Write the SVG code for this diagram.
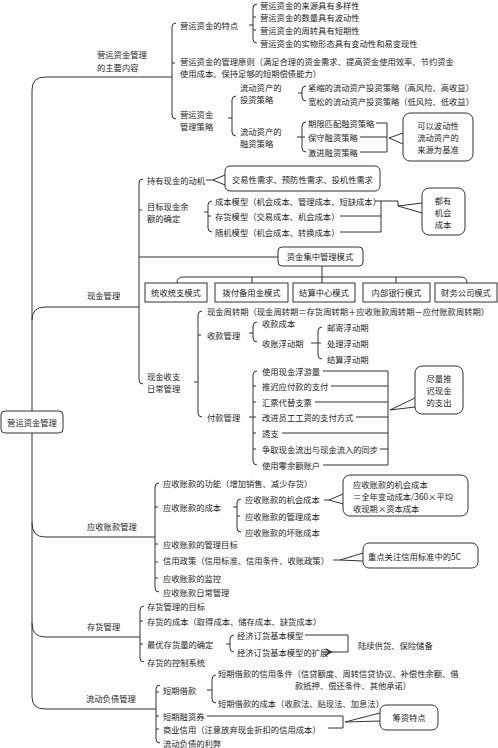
<svg xmlns="http://www.w3.org/2000/svg" width="498" height="748" viewBox="0 0 498 748">
<style>
.t{font-family:"Noto Sans CJK SC","Noto Sans",sans-serif;font-size:8.3px;fill:#1e1e1e;dominant-baseline:central}
.c{text-anchor:middle}
.ln{fill:none;stroke:#333;stroke-width:1}
.bx{fill:#fff;stroke:#333;stroke-width:1}
</style>
<defs>
<marker id="arr" viewBox="0 0 8 8" refX="1" refY="4" markerWidth="8" markerHeight="8" orient="auto-start-reverse" markerUnits="userSpaceOnUse">
<path d="M8,0 L0,4 L8,8 L5,4 Z" fill="#333"/>
</marker>
</defs>
<rect width="498" height="748" fill="#fff"/>

<g id="connectors" class="ln">
<path d="M172,77 H45 Q32,77 32,90 V697 Q32,709 45,709 H156"/>
<path d="M32,320 Q32,307 45,307 H139"/>
<path d="M32,523 Q32,537 45,537 H155"/>
<path d="M32,623 Q32,637 45,637 H140"/>
<path d="M176,23 Q172,23 172,27 V115 Q172,119 176,119 M172,63 H175"/>
<path d="M257,4 Q253,4 253,8 V39 Q253,43 257,43 M249,25 H253 M253,17 H256 M253,30 H256"/>
<path d="M236,96 Q232,96 232,100 V132 Q232,136 236,136 M228,118 H232"/>
<path d="M306,86 Q302,86 302,90 V97 Q302,101 306,101 M298,93 H302"/>
<path d="M306,122 Q302,122 302,126 V148 Q302,152 306,152 M297,137 H305"/>
<path d="M143,179 Q139,179 139,183 V380 Q139,384 143,384 M139,210 H142"/>
<path d="M212,201 Q208,201 208,205 V228 Q208,232 212,232 M204,212 H208 M208,216 H211"/>
<path d="M202,311 Q198,311 198,315 V413 Q198,417 202,417 M194,382 H198 M198,335 H201"/>
<path d="M257,322 Q253,322 253,326 V338 Q253,342 257,342 M249,333 H253"/>
<path d="M322,327 Q318,327 318,331 V355 Q318,359 322,359 M311,343 H321"/>
<path d="M257,371 Q253,371 253,375 V461 Q253,465 257,465 M249,417 H256 M253,386 H256 M253,402 H256 M253,433 H256 M253,449 H256"/>
<path d="M159,483 Q155,483 155,487 V588 Q155,592 159,592 M155,507 H158 M155,544 H158 M155,562 H158 M155,578 H158"/>
<path d="M241,499 Q237,499 237,503 V528 Q237,532 241,532 M233,507 H237 M237,516 H240"/>
<path d="M144,606 Q140,606 140,610 V658 Q140,662 144,662 M140,621 H143 M140,644 H143"/>
<path d="M234,635 Q230,635 230,639 V648 Q230,652 234,652 M226,644 H230"/>
<path d="M160,685 Q156,685 156,689 V739 Q156,743 160,743 M156,692 H159 M156,716 H159 M156,729 H159"/>
<path d="M216,675 Q212,675 212,679 V699 Q212,703 216,703 M207,690 H212"/>
<path d="M376,123 H387 V152 H360 M360,137 H387 M389,138 L403,133 M389,138 L403,144"/>
<path d="M206,180 H213 L225,175 M213,180 L225,185"/>
<path d="M375,201 H398 V206 M340,216 H381 M340,232 H381 V201 M398,206 L422,203 M398,206 L422,213"/>
<path d="M139,257 H278 M322,266 V283 M177,283 Q177,277 183,277 H461 Q467,277 467,283 M252,277 V283 M396,277 V283"/>
<path d="M323,371 H388 V465 H323 M331,386 H388 M315,402 H388 M356,417 H388 M282,433 H388 M380,449 H388 M390,410 L415,398 M390,410 L415,407"/>
<path d="M324,500 H329 L343,494 M329,500 L343,504"/>
<path d="M333,560 H340 L363,553 M340,560 L363,561"/>
<path d="M305,635 H348 V652 H332" marker-end="url(#arr)"/>
<path d="M207,716 H343 V728 H328 M345,722 L380,713 M345,722 L380,721"/>
</g>

<g id="n-root">
<rect class="bx" x="1" y="411" width="62" height="22" rx="4"/>
<text class="t c" x="32" y="422">营运资金管理</text>
</g>

<g id="n-main-content">
<text class="t" x="97" y="54">营运资金管理</text>
<text class="t" x="97" y="67">的主要内容</text>
</g>
<g id="n-features">
<text class="t" x="180" y="25">营运资金的特点</text>
</g>
<g id="n-features-items">
<text class="t" x="260" y="5">营运资金的来源具有多样性</text>
<text class="t" x="260" y="17">营运资金的数量具有波动性</text>
<text class="t" x="260" y="30">营运资金的周转具有短期性</text>
<text class="t" x="260" y="43">营运资金的实物形态具有变动性和易变现性</text>
</g>
<g id="n-principle">
<text class="t" x="180" y="61">营运资金的管理原则（满足合理的资金需求、提高资金使用效率、节约资金</text>
<text class="t" x="180" y="73">使用成本、保持足够的短期偿债能力）</text>
</g>
<g id="n-strategy">
<text class="t" x="180" y="114">营运资金</text>
<text class="t" x="180" y="126">管理策略</text>
</g>
<g id="n-invest">
<text class="t" x="240" y="87">流动资产的</text>
<text class="t" x="240" y="99">投资策略</text>
<text class="t" x="308" y="87">紧缩的流动资产投资策略（高风险、高收益）</text>
<text class="t" x="308" y="101">宽松的流动资产投资策略（低风险、低收益）</text>
</g>
<g id="n-finance">
<text class="t" x="240" y="131">流动资产的</text>
<text class="t" x="240" y="143">融资策略</text>
<text class="t" x="308" y="123">期限匹配融资策略</text>
<text class="t" x="308" y="137">保守融资策略</text>
<text class="t" x="308" y="152">激进融资策略</text>
</g>
<g id="n-finance-note">
<rect class="bx" x="403" y="113" width="70" height="48" rx="7"/>
<text class="t c" x="438" y="125">可以波动性</text>
<text class="t c" x="438" y="137">流动资产的</text>
<text class="t c" x="438" y="149">来源为基准</text>
</g>

<g id="n-cash">
<text class="t" x="87" y="295">现金管理</text>
</g>
<g id="n-motive">
<text class="t" x="147" y="180">持有现金的动机</text>
</g>
<g id="n-motive-box">
<rect class="bx" x="225" y="166" width="155" height="25" rx="5"/>
<text class="t" x="232" y="179">交易性需求、预防性需求、投机性需求</text>
</g>
<g id="n-target">
<text class="t" x="147" y="206">目标现金余</text>
<text class="t" x="147" y="218">额的确定</text>
<text class="t" x="215" y="201">成本模型（机会成本、管理成本、短缺成本）</text>
<text class="t" x="215" y="216">存货模型（交易成本、机会成本）</text>
<text class="t" x="215" y="232">随机模型（机会成本、转换成本）</text>
</g>
<g id="n-target-note">
<rect class="bx" x="422" y="188" width="43" height="47" rx="7"/>
<text class="t c" x="443" y="200">都有</text>
<text class="t c" x="443" y="212">机会</text>
<text class="t c" x="443" y="224">成本</text>
</g>
<g id="n-central">
<rect class="bx" x="278" y="247" width="85" height="19" rx="4"/>
<text class="t c" x="320" y="256">资金集中管理模式</text>
</g>
<g id="n-mode1"><rect class="bx" x="145" y="283" width="62" height="19"/><text class="t c" x="176" y="292">统收统支模式</text></g>
<g id="n-mode2"><rect class="bx" x="215" y="283" width="73" height="19"/><text class="t c" x="251.5" y="292">拨付备用金模式</text></g>
<g id="n-mode3"><rect class="bx" x="293" y="283" width="62" height="19"/><text class="t c" x="324" y="292">结算中心模式</text></g>
<g id="n-mode4"><rect class="bx" x="363" y="283" width="67" height="19"/><text class="t c" x="396.5" y="292">内部银行模式</text></g>
<g id="n-mode5"><rect class="bx" x="435" y="283" width="62" height="19"/><text class="t c" x="466" y="292">财务公司模式</text></g>

<g id="n-daily">
<text class="t" x="147" y="376">现金收支</text>
<text class="t" x="147" y="388">日常管理</text>
<text class="t" x="207" y="311">现金周转期（现金周转期＝存货周转期＋应收账款周转期－应付账款周转期）</text>
</g>
<g id="n-collect">
<text class="t" x="207" y="335">收款管理</text>
<text class="t" x="262" y="323">收款成本</text>
<text class="t" x="262" y="343">收账浮动期</text>
<text class="t" x="327" y="327">邮寄浮动期</text>
<text class="t" x="327" y="343">处理浮动期</text>
<text class="t" x="327" y="359">结算浮动期</text>
</g>
<g id="n-pay">
<text class="t" x="207" y="417">付款管理</text>
<text class="t" x="262" y="371">使用现金浮游量</text>
<text class="t" x="262" y="386">推迟应付款的支付</text>
<text class="t" x="262" y="402">汇票代替支票</text>
<text class="t" x="262" y="417">改进员工工资的支付方式</text>
<text class="t" x="262" y="433">透支</text>
<text class="t" x="262" y="449">争取现金流出与现金流入的同步</text>
<text class="t" x="262" y="465">使用零余额账户</text>
</g>
<g id="n-pay-note">
<rect class="bx" x="415" y="366" width="48" height="48" rx="7"/>
<text class="t c" x="439" y="378">尽量推</text>
<text class="t c" x="439" y="390">迟现金</text>
<text class="t c" x="439" y="402">的支出</text>
</g>

<g id="n-receivable">
<text class="t" x="87" y="526">应收账款管理</text>
<text class="t" x="163" y="483">应收账款的功能（增加销售、减少存货）</text>
<text class="t" x="163" y="507">应收账款的成本</text>
<text class="t" x="163" y="544">应收账款的管理目标</text>
<text class="t" x="163" y="560">信用政策（信用标准、信用条件、收账政策）</text>
<text class="t" x="163" y="578">应收账款的监控</text>
<text class="t" x="163" y="592">应收账款日常管理</text>
</g>
<g id="n-rec-cost">
<text class="t" x="245" y="499">应收账款的机会成本</text>
<text class="t" x="245" y="516">应收账款的管理成本</text>
<text class="t" x="245" y="532">应收账款的坏账成本</text>
</g>
<g id="n-rec-note">
<rect class="bx" x="343" y="475" width="125" height="41" rx="7"/>
<text class="t" x="353" y="484">应收账款的机会成本</text>
<text class="t" x="353" y="496">＝全年变动成本/360×平均</text>
<text class="t" x="353" y="508">收现期×资本成本</text>
</g>
<g id="n-credit-note">
<rect class="bx" x="363" y="543" width="115" height="25" rx="6"/>
<text class="t" x="368" y="556">重点关注信用标准中的5C</text>
</g>

<g id="n-inventory">
<text class="t" x="87" y="626">存货管理</text>
<text class="t" x="147" y="606">存货管理的目标</text>
<text class="t" x="147" y="621">存货的成本（取得成本、储存成本、缺货成本）</text>
<text class="t" x="147" y="644">最优存货量的确定</text>
<text class="t" x="147" y="662">存货的控制系统</text>
</g>
<g id="n-eoq">
<text class="t" x="237" y="635">经济订货基本模型</text>
<text class="t" x="237" y="652">经济订货基本模型的扩展</text>
<text class="t" x="358" y="645">陆续供货、保险储备</text>
</g>

<g id="n-liability">
<text class="t" x="86" y="698">流动负债管理</text>
<text class="t" x="163" y="690">短期借款</text>
<text class="t" x="163" y="716">短期融资券</text>
<text class="t" x="163" y="729">商业信用（注意放弃现金折扣的信用成本）</text>
<text class="t" x="163" y="743">流动负债的利弊</text>
</g>
<g id="n-loan">
<text class="t" x="218" y="673">短期借款的信用条件（信贷额度、周转信贷协议、补偿性余额、借</text>
<text class="t" x="295" y="685">款抵押、偿还条件、其他承诺）</text>
<text class="t" x="218" y="703">短期借款的成本（收款法、贴现法、加息法）</text>
</g>
<g id="n-fund-note">
<rect class="bx" x="380" y="705" width="58" height="25" rx="6"/>
<text class="t c" x="409" y="717">筹资特点</text>
</g>
</svg>
